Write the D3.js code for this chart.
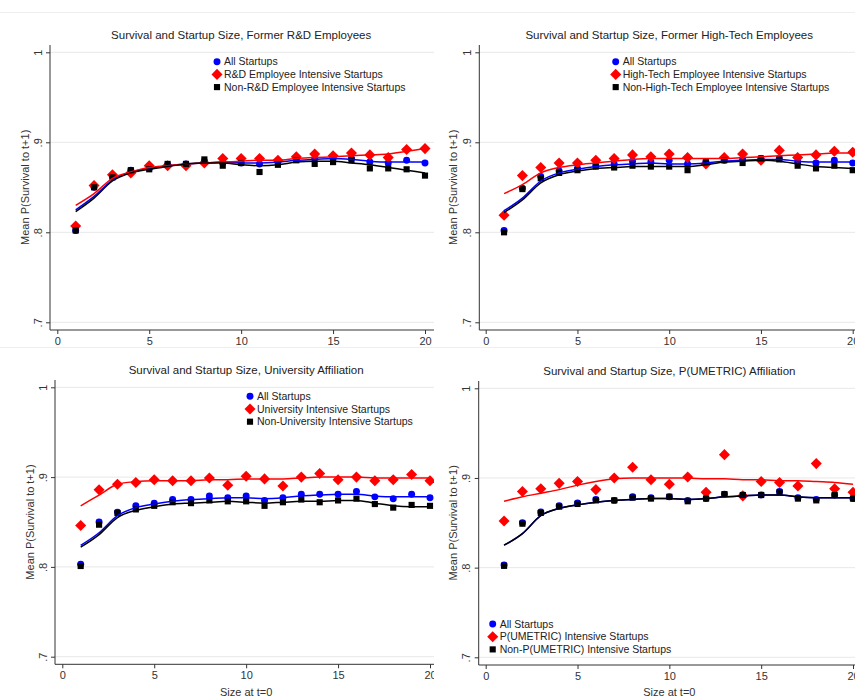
<!DOCTYPE html>
<html lang="en">
<head>
  <meta charset="UTF-8">
  <title>Survival and Startup Size</title>
  <script src="https://d3js.org/d3.v7.min.js"></script>
  <style>
    body { margin: 0; background: #fff; }
    svg { display: block; font-family: "Liberation Sans", Arial, sans-serif; }
  </style>
</head>
<body>
  <svg id="chart" width="855" height="698"></svg>
  <script>
    // --- data ---
    const sizes = [1, 2, 3, 4, 5, 6, 7, 8, 9, 10, 11, 12, 13, 14, 15, 16, 17, 18, 19, 20];
    const xTicks = [0, 5, 10, 15, 20];
    const yTicks = [0.7, 0.8, 0.9, 1];
    const yTickLabels = [".7", ".8", ".9", "1"];

    const titles = [
      "Survival and Startup Size, Former R&D Employees",
      "Survival and Startup Size, Former High-Tech Employees",
      "Survival and Startup Size, University Affiliation",
      "Survival and Startup Size, P(UMETRIC) Affiliation"
    ];
    const legendLabels = [
      ["All Startups", "R&D Employee Intensive Startups", "Non-R&D Employee Intensive Startups"],
      ["All Startups", "High-Tech Employee Intensive Startups", "Non-High-Tech Employee Intensive Startups"],
      ["All Startups", "University Intensive Startups", "Non-University Intensive Startups"],
      ["All Startups", "P(UMETRIC) Intensive Startups", "Non-P(UMETRIC) Intensive Startups"]
    ];
    const yTitle = "Mean P(Survival to t+1)";
    const xTitle = "Size at t=0";

    // panel 1: former R&D employees
    const rdAll  = [.802, .850, .862, .869, .871, .875, .876, .879, .877, .877, .876, .878, .881, .882, .882, .882, .878, .877, .880, .877];
    const rdHigh = [.807, .852, .864, .866, .874, .874, .874, .877, .882, .882, .882, .880, .884, .887, .885, .888, .886, .883, .892, .893];
    const rdNon  = [.802, .850, .861, .869, .870, .876, .876, .881, .874, .877, .867, .875, .880, .876, .878, .880, .871, .871, .870, .863];
    const rdAllFit  = [.825, .840, .858, .867, .871, .874, .876, .877, .878, .877, .877, .878, .880, .881, .882, .881, .879, .878, .878, .878];
    const rdHighFit = [.830, .843, .860, .867, .872, .874, .876, .877, .878, .879, .880, .880, .882, .883, .884, .885, .886, .887, .890, .893];
    const rdNonFit  = [.823, .838, .857, .866, .870, .873, .876, .877, .877, .875, .874, .875, .878, .879, .879, .877, .875, .872, .869, .866];

    // panel 2: former high-tech employees
    const htAll  = [.802, .849, .862, .868, .871, .874, .876, .879, .878, .880, .876, .878, .880, .881, .882, .882, .878, .877, .880, .877];
    const htHigh = [.819, .863, .872, .877, .877, .880, .882, .886, .884, .887, .883, .876, .883, .887, .880, .891, .883, .886, .890, .889];
    const htNon  = [.800, .848, .860, .866, .869, .873, .872, .874, .873, .873, .869, .878, .880, .877, .882, .881, .874, .871, .874, .869];
    const htAllFit  = [.824, .838, .857, .866, .870, .873, .875, .876, .877, .876, .876, .877, .879, .880, .881, .881, .879, .878, .878, .878];
    const htHighFit = [.843, .853, .866, .872, .875, .877, .879, .881, .882, .882, .882, .882, .882, .883, .884, .885, .886, .887, .888, .888];
    const htNonFit  = [.822, .836, .855, .864, .868, .871, .872, .873, .873, .873, .873, .875, .878, .879, .880, .879, .876, .873, .872, .871];

    // panel 3: university affiliation
    const unAll  = [.803, .850, .861, .868, .871, .875, .875, .879, .877, .879, .874, .877, .881, .881, .881, .884, .878, .876, .881, .877];
    const unHigh = [.846, .886, .892, .894, .897, .896, .896, .899, .891, .901, .898, .890, .900, .904, .897, .900, .896, .897, .903, .896];
    const unNon  = [.801, .847, .860, .864, .868, .872, .871, .874, .873, .873, .868, .872, .875, .872, .874, .876, .870, .866, .869, .868];
    const unAllFit  = [.824, .838, .857, .866, .870, .873, .875, .876, .877, .877, .876, .877, .879, .880, .881, .881, .879, .878, .878, .878];
    const unHighFit = [.868, .880, .892, .895, .896, .896, .896, .897, .897, .898, .898, .898, .899, .900, .900, .900, .899, .899, .899, .899];
    const unNonFit  = [.822, .836, .855, .863, .867, .870, .871, .872, .873, .872, .871, .872, .873, .873, .874, .874, .871, .868, .867, .867];

    // panel 4: P(UMETRIC) affiliation
    const umAll  = [.803, .850, .862, .869, .872, .876, .875, .879, .878, .879, .875, .877, .882, .881, .881, .885, .878, .876, .881, .877];
    const umHigh = [.852, .885, .888, .894, .896, .887, .900, .912, .898, .893, .901, .884, .926, .880, .896, .895, .891, .916, .888, .884];
    const umNon  = [.802, .849, .861, .868, .871, .875, .875, .878, .877, .879, .874, .877, .882, .881, .881, .884, .877, .875, .881, .877];
    const umAllFit  = [.825, .838, .858, .866, .870, .873, .875, .876, .877, .877, .876, .877, .879, .880, .881, .881, .879, .878, .878, .878];
    const umHighFit = [.874, .879, .883, .887, .892, .896, .899, .900, .900, .900, .900, .899, .899, .898, .898, .897, .897, .896, .895, .893];
    const umNonFit  = [.825, .838, .858, .866, .870, .873, .875, .876, .877, .877, .876, .877, .879, .880, .881, .881, .879, .878, .878, .878];

    // --- layout of the four panels ---
    const panels = [
      { series: [rdAll, rdHigh, rdNon], fits: [rdAllFit, rdHighFit, rdNonFit],
        axisX: 50, xr: [57.3, 425], yr: [322.3, 52.3], top: 45, bottom: 330,
        clip: [0, 0, 434, 350], titleY: 35, legX: 217, legY: 61.7, yTitleX: 25, xTitle: false },
      { series: [htAll, htHigh, htNon], fits: [htAllFit, htHighFit, htNonFit],
        axisX: 479.3, xr: [485.7, 852.7], yr: [322.3, 52.3], top: 45, bottom: 330,
        clip: [434, 0, 855, 350], titleY: 35, legX: 615.7, legY: 61.7, yTitleX: 453.3, xTitle: false },
      { series: [unAll, unHigh, unNon], fits: [unAllFit, unHighFit, unNonFit],
        axisX: 55, xr: [62.3, 430], yr: [656.7, 387.3], top: 380, bottom: 664.3,
        clip: [0, 350, 434, 698], titleY: 370, legX: 250, legY: 396.3, yTitleX: 30, xTitle: true },
      { series: [umAll, umHigh, umNon], fits: [umAllFit, umHighFit, umNonFit],
        axisX: 478.7, xr: [485.7, 853], yr: [657.3, 388.3], top: 381, bottom: 665,
        clip: [434, 350, 855, 698], titleY: 371, legX: 492.7, legY: 624, yTitleX: 453, xTitle: true }
    ];

    const colors = ["#0000ff", "#ff0000", "#000000"];
    const symbols = [d3.symbolCircle, d3.symbolDiamond2, d3.symbolSquare2];
    const symSizes = [38, 78, 48];

    const svg = d3.select("#chart");
    const defs = svg.append("defs");

    // faint frame lines of the original graph regions
    svg.append("line").attr("x1", 0).attr("x2", 855).attr("y1", 12.5).attr("y2", 12.5)
      .attr("stroke", "#eeeeee");
    svg.append("line").attr("x1", 0).attr("x2", 855).attr("y1", 347.5).attr("y2", 347.5)
      .attr("stroke", "#eeeeee");

    panels.forEach((p, i) => {
      const [cx0, cy0, cx1, cy1] = p.clip;
      defs.append("clipPath").attr("id", "clip" + i)
        .append("rect").attr("x", cx0).attr("y", cy0).attr("width", cx1 - cx0).attr("height", cy1 - cy0);

      const g = svg.append("g").attr("clip-path", `url(#clip${i})`);
      const x = d3.scaleLinear().domain([0, 20]).range(p.xr);
      const y = d3.scaleLinear().domain([0.7, 1]).range(p.yr);

      // gridlines
      g.selectAll(".grid").data(yTicks).enter().append("line")
        .attr("x1", p.axisX).attr("x2", cx1)
        .attr("y1", d => y(d)).attr("y2", d => y(d))
        .attr("stroke", "#e8e8e8").attr("stroke-width", 1);

      // y axis
      const yAxis = d3.axisLeft(y).tickValues(yTicks).tickSize(4)
        .tickFormat((d, k) => yTickLabels[k]);
      const ya = g.append("g").attr("transform", `translate(${p.axisX},0)`).call(yAxis);
      ya.select(".domain").attr("d", `M0,${p.top}V${p.bottom}`).attr("stroke", "#333");
      ya.selectAll(".tick line").attr("stroke", "#333");
      ya.selectAll(".tick text")
        .attr("x", null).attr("dy", null)
        .attr("transform", "translate(-8.5,0) rotate(-90)")
        .attr("text-anchor", "middle")
        .attr("font-size", 11).attr("fill", "#333")
        .attr("font-family", "Liberation Sans, Arial, sans-serif");

      // x axis
      const xAxis = d3.axisBottom(x).tickValues(xTicks).tickSize(4).tickFormat(d3.format("d"));
      const xa = g.append("g").attr("transform", `translate(0,${p.bottom})`).call(xAxis);
      xa.select(".domain").attr("d", `M${p.axisX},0H${cx1}`).attr("stroke", "#333");
      xa.selectAll(".tick line").attr("stroke", "#333");
      xa.selectAll(".tick text").attr("y", 7).attr("dy", "0.71em")
        .attr("font-size", 11).attr("fill", "#333")
        .attr("font-family", "Liberation Sans, Arial, sans-serif");

      // markers
      p.series.forEach((vals, s) => {
        g.append("g").selectAll("path").data(vals).enter().append("path")
          .attr("d", d3.symbol().type(symbols[s]).size(symSizes[s]))
          .attr("transform", (d, k) => `translate(${x(sizes[k])},${y(d)})`)
          .attr("fill", colors[s]);
      });

      // smoothed lines
      const line = d3.line().x((d, k) => x(sizes[k])).y(d => y(d)).curve(d3.curveMonotoneX);
      p.fits.forEach((vals, s) => {
        g.append("path").datum(vals).attr("d", line)
          .attr("fill", "none").attr("stroke", colors[s]).attr("stroke-width", 1.5);
      });

      // title
      g.append("text").attr("x", x(10)).attr("y", p.titleY).attr("dy", "0.35em")
        .attr("text-anchor", "middle").attr("font-size", 11.5).attr("fill", "#222")
        .text(titles[i]);

      // y title
      g.append("text")
        .attr("transform", `translate(${p.yTitleX + 4},${(p.yr[0] + p.yr[1]) / 2}) rotate(-90)`)
        .attr("text-anchor", "middle").attr("font-size", 11).attr("fill", "#333")
        .text(yTitle);

      // x title
      if (p.xTitle) {
        g.append("text").attr("x", x(10)).attr("y", 692).attr("dy", "0.35em")
          .attr("text-anchor", "middle").attr("font-size", 11).attr("fill", "#333")
          .text(xTitle);
      }

      // legend
      legendLabels[i].forEach((lab, s) => {
        const ly = p.legY + s * 12.7;
        g.append("path")
          .attr("d", d3.symbol().type(symbols[s]).size(symSizes[s]))
          .attr("transform", `translate(${p.legX},${ly})`)
          .attr("fill", colors[s]);
        g.append("text").attr("x", p.legX + 7).attr("y", ly).attr("dy", "0.35em")
          .attr("font-size", 10.5).attr("fill", "#222").text(lab);
      });
    });
  </script>
</body>
</html>
